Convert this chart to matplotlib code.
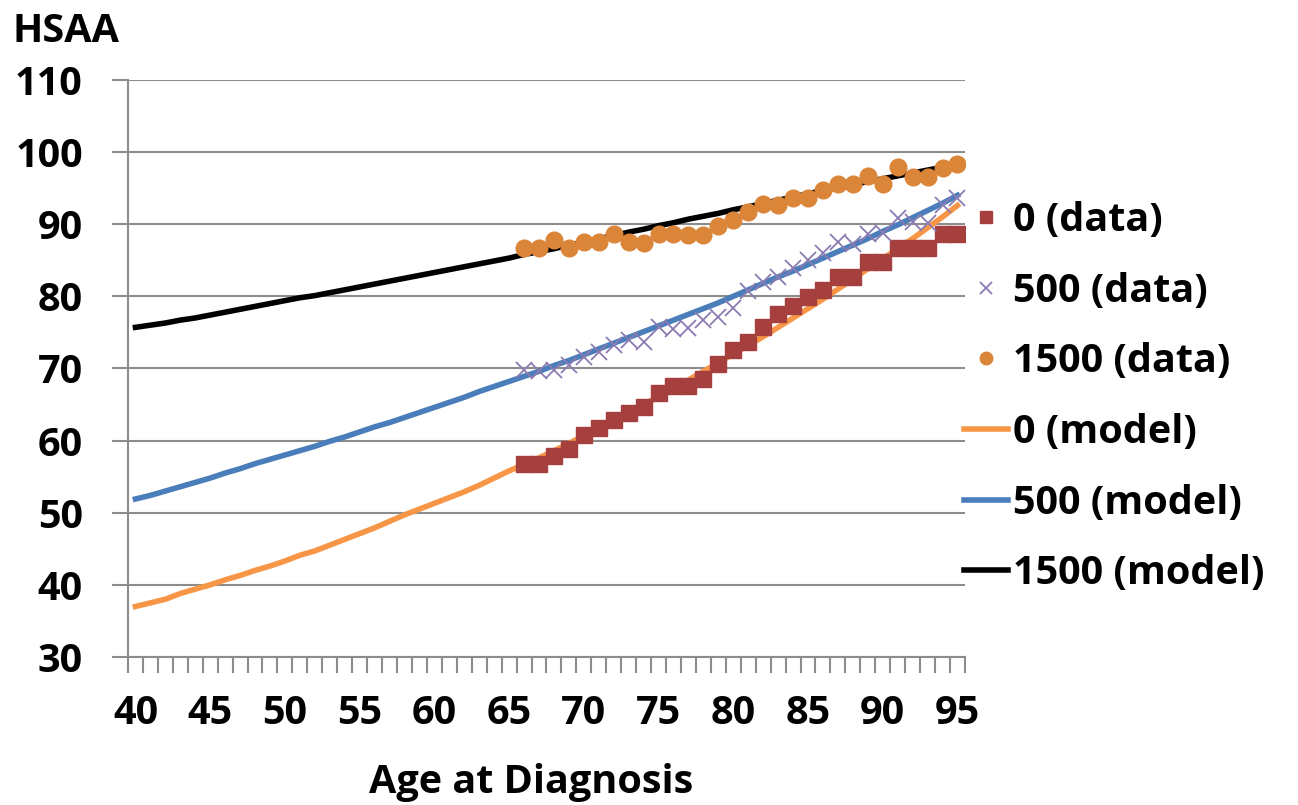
import numpy as np
import matplotlib.pyplot as plt

# ages on the category axis
ages = list(range(40, 96))
data_ages = list(range(66, 96))

# model curves, one value per age 40..95
model_0 = [37.0, 37.5, 38.0, 38.8, 39.4, 40.0, 40.7, 41.3, 42.0, 42.6,
           43.3, 44.1, 44.7, 45.5, 46.3, 47.1, 47.9, 48.8, 49.7, 50.5,
           51.3, 52.1, 52.9, 53.8, 54.8, 55.8, 56.7, 57.6, 58.6, 59.6,
           60.7, 61.7, 62.8, 63.9, 65.0, 66.1, 67.2, 68.4, 69.6, 70.8,
           72.0, 73.2, 74.4, 75.7, 77.0, 78.3, 79.6, 81.0, 82.4, 83.8,
           85.2, 86.6, 88.0, 89.5, 91.0, 92.6]
model_500 = [51.9, 52.4, 53.0, 53.6, 54.2, 54.8, 55.5, 56.1, 56.8, 57.4,
             58.0, 58.6, 59.2, 59.9, 60.5, 61.2, 61.9, 62.5, 63.2, 63.9,
             64.6, 65.3, 66.0, 66.8, 67.5, 68.2, 68.9, 69.6, 70.4, 71.1,
             71.9, 72.7, 73.5, 74.3, 75.1, 75.9, 76.7, 77.5, 78.3, 79.1,
             80.0, 80.9, 81.8, 82.7, 83.5, 84.4, 85.3, 86.2, 87.1, 88.0,
             89.0, 89.9, 90.9, 91.9, 92.9, 94.0]
model_1500 = [75.7, 76.0, 76.3, 76.7, 77.0, 77.4, 77.8, 78.2, 78.6, 79.0,
              79.4, 79.8, 80.1, 80.5, 80.9, 81.3, 81.7, 82.1, 82.5, 82.9,
              83.3, 83.7, 84.1, 84.5, 84.9, 85.3, 85.8, 86.2, 86.6, 87.1,
              87.5, 88.0, 88.4, 88.9, 89.3, 89.8, 90.2, 90.7, 91.1, 91.5,
              92.0, 92.4, 92.9, 93.3, 93.8, 94.2, 94.7, 95.1, 95.5, 95.9,
              96.3, 96.7, 97.1, 97.5, 97.9, 98.3]

# observed values, ages 66..95
data_0 = [56.7, 56.7, 57.8, 58.8, 60.8, 61.7, 62.8, 63.8, 64.6, 66.6,
          67.6, 67.6, 68.6, 70.6, 72.6, 73.7, 75.7, 77.6, 78.7, 79.9,
          80.9, 82.7, 82.7, 84.8, 84.8, 86.7, 86.7, 86.7, 88.6, 88.6]
data_500 = [69.8, 69.7, 69.8, 70.5, 71.6, 72.3, 73.2, 73.9, 73.6, 75.7,
            75.5, 75.6, 76.7, 77.2, 78.4, 80.8, 82.0, 82.7, 83.9, 85.0,
            86.0, 87.6, 87.2, 88.7, 88.8, 90.8, 90.3, 90.1, 92.6, 93.6]
data_1500 = [86.7, 86.7, 87.8, 86.7, 87.6, 87.6, 88.7, 87.6, 87.4, 88.6,
             88.6, 88.5, 88.5, 89.7, 90.6, 91.7, 92.8, 92.7, 93.6, 93.6,
             94.7, 95.6, 95.6, 96.7, 95.6, 97.9, 96.6, 96.6, 97.8, 98.4]

plt.rcParams['font.family'] = ['Open Sans', 'DejaVu Sans']
plt.rcParams['font.weight'] = 'bold'
FS = 28.5
grey = '#8C8C8C'

fig = plt.figure(figsize=(12.98, 8.05), dpi=100)
ax = fig.add_axes([0.0986, 0.1839, 0.6448, 0.7168])

# lines first, markers on top
l0, = ax.plot(ages, model_0, color='#F79646', lw=4, zorder=3)
l500, = ax.plot(ages, model_500, color='#4A7EBB', lw=4, zorder=3)
l1500, = ax.plot(ages, model_1500, color='black', lw=4, zorder=3)
s0, = ax.plot(data_ages, data_0, ls='none', marker='s', ms=12,
              color='#A5403E', zorder=4)
s500, = ax.plot(data_ages, data_500, ls='none', marker='x', ms=12,
                mew=1.3, color='#8B7BB3', zorder=4)
s1500, = ax.plot(data_ages, data_1500, ls='none', marker='o', ms=12,
                 color='#DB8539', zorder=4)

ax.set_xlim(39.5, 95.5)
ax.set_ylim(30, 110)
ax.set_yticks(range(30, 111, 10))
ax.set_xticks(range(40, 96, 5))
ax.set_xticks(np.arange(39.5, 96, 1), minor=True)
ax.grid(axis='y', color=grey, lw=1.5)
ax.set_axisbelow(True)

for sp in ['top', 'right']:
    ax.spines[sp].set_visible(False)
for sp in ['left', 'bottom']:
    ax.spines[sp].set_color(grey)
    ax.spines[sp].set_linewidth(1.5)

ax.tick_params(axis='x', which='major', length=0, pad=27, labelsize=FS)
ax.tick_params(axis='x', which='minor', length=11.5, width=1.5, color=grey)
ax.tick_params(axis='y', length=11.5, width=1.5, color=grey, pad=21,
               labelsize=FS)
for t in ax.get_xticklabels() + ax.get_yticklabels():
    t.set_fontweight('bold')

fig.text(13 / 1298, 1 - 42 / 805, 'HSAA', fontsize=FS, fontweight='bold',
         ha='left', va='baseline')
fig.text(531 / 1298, 1 - 793 / 805, 'Age at Diagnosis', fontsize=FS,
         fontweight='bold', ha='center', va='baseline')

handles = [s0, s500, s1500, l0, l500, l1500]
labels = ['0 (data)', '500 (data)', '1500 (data)',
          '0 (model)', '500 (model)', '1500 (model)']
leg = fig.legend(handles, labels, loc='upper left',
                 bbox_to_anchor=(964 / 1298, 1 - 201 / 805), frameon=False,
                 fontsize=FS, handlelength=1.1, handletextpad=0.15,
                 labelspacing=0.8, borderaxespad=0, borderpad=0,
                 markerscale=0.75)
for t in leg.get_texts():
    t.set_fontweight('bold')

fig.savefig('out.png', dpi=100, facecolor='white')
